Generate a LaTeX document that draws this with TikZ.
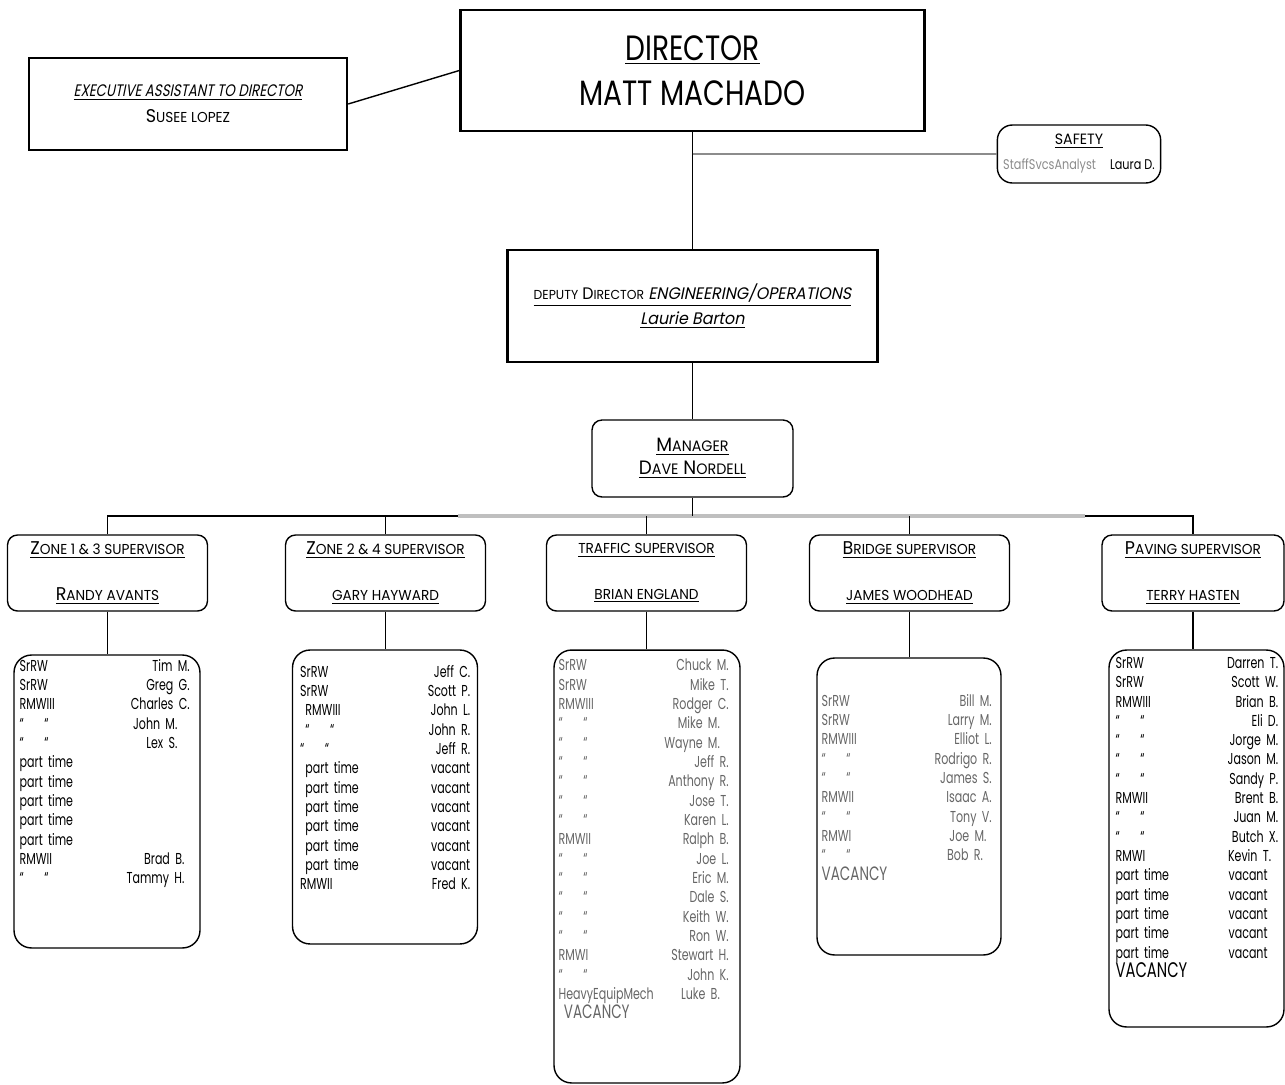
\documentclass[tikz,border=0pt]{standalone}
\usepackage{fontspec}
\usepackage{graphicx}
\setmainfont{Poppins}[FakeStretch=0.8, ItalicFont=Poppins, ItalicFeatures={FakeSlant=0.2}]
\newfontfamily\widefont{Poppins}[FakeStretch=0.95, ItalicFont=Poppins, ItalicFeatures={FakeSlant=0.2}]
\newfontfamily\listfont{Poppins}[FakeStretch=0.7]
\newcommand\lc[1]{\scalebox{0.78}{#1}}
\newcommand\rw[2]{#1\hfill#2}
\newcommand\dit{“\hspace{1.3em}“}
\tikzset{
  box/.style = {draw, line width=1.4pt, align=center},
  rbox/.style = {draw, line width=0.8pt, rounded corners=0.2cm, align=center},
  sup/.style = {rbox, minimum width=4cm, minimum height=1.52cm, font=\widefont\fontsize{10.5}{26}\selectfont},
  staff/.style = {draw, line width=0.8pt, rounded corners=0.35cm},
  list/.style = {anchor=north west, inner sep=0pt, text width=3.4cm, align=left,
    font=\listfont\fontsize{9}{11}\selectfont},
  link/.style = {line width=0.8pt}
}
\begin{document}
\begin{tikzpicture}[x=0.02cm, y=-0.02cm]
  \path[fill=white, use as bounding box] (0,0) rectangle (1285,1085);

  \node[box, minimum width=9.28cm, minimum height=2.42cm, font=\fontsize{20}{25.6}\selectfont] (dir) at (692.5,70.5)
    {\underline{DIRECTOR}\\MATT MACHADO};
  \node[box, minimum width=6.36cm, minimum height=1.84cm, font=\fontsize{9.5}{14.8}\selectfont] (exec) at (188,104)
    {\underline{\textit{EXECUTIVE ASSISTANT TO DIRECTOR}}\\{\widefont\fontsize{10.5}{14.8}\selectfont S\lc{USEE LOPEZ}}};
  \node[rbox, rounded corners=0.3cm, minimum width=3.24cm, minimum height=1.16cm, font=\fontsize{8}{14.2}\selectfont] (saf) at (1079,154)
    {{\widefont\fontsize{8.5}{14.2}\selectfont\underline{SAFETY}}\\{\color{black!45}StaffSvcsAnalyst}\quad Laura D.};
  \node[box, minimum width=7.4cm, minimum height=2.24cm, font=\widefont\fontsize{9.5}{14.2}\selectfont] (dep) at (692.5,306)
    {\underline{\lc{DEPUTY} D\lc{IRECTOR} \textit{ENGINEERING/OPERATIONS}}\\\underline{\textit{Laurie Barton}}};
  \node[rbox, minimum width=4.02cm, minimum height=1.54cm, font=\widefont\fontsize{11}{13}\selectfont] (mgr) at (692.5,458.5)
    {\underline{M\lc{ANAGER}}\\\underline{D\lc{AVE} N\lc{ORDELL}}};

  % supervisors
  \node[sup] (z13) at (107.5,573) {\underline{Z\lc{ONE 1 \& 3 SUPERVISOR}}\\\underline{R\lc{ANDY AVANTS}}};
  \node[sup] (z24) at (385.5,573) {\underline{Z\lc{ONE 2 \& 4 SUPERVISOR}}\\\underline{\lc{GARY HAYWARD}}};
  \node[sup] (trf) at (646.5,573) {\underline{\lc{TRAFFIC SUPERVISOR}}\\\underline{\lc{BRIAN ENGLAND}}};
  \node[sup] (brg) at (909.5,573) {\underline{B\lc{RIDGE SUPERVISOR}}\\\underline{\lc{JAMES WOODHEAD}}};
  \node[sup, minimum width=3.64cm] (pav) at (1193,573) {\underline{P\lc{AVING SUPERVISOR}}\\\underline{\lc{TERRY HASTEN}}};

  % staff
  \node[staff, minimum width=3.72cm, minimum height=5.86cm] (s13) at (107,801.5) {};
  \node[staff, minimum width=3.7cm, minimum height=5.88cm] (s24) at (385,797) {};
  \node[staff, minimum width=3.72cm, minimum height=8.66cm] (strf) at (647,866.5) {};
  \node[staff, minimum width=3.68cm, minimum height=5.94cm] (sbrg) at (909,806.5) {};
  \node[staff, minimum width=3.5cm, minimum height=7.54cm] (spav) at (1196.5,838.5) {};

  \node[list] (l13) at ([xshift=0.12cm, yshift=-0.09cm]s13.north west) {
    \rw{SrRW}{Tim M.}\\
    \rw{SrRW}{Greg G.}\\
    \rw{RMWIII}{Charles C.}\\
    \rw{\dit}{John M.\kern7pt}\\
    \rw{\dit}{Lex S.\kern7pt}\\
    \rw{part time}{}\\
    \rw{part time}{}\\
    \rw{part time}{}\\
    \rw{part time}{}\\
    \rw{part time}{}\\
    \rw{RMWII}{Brad B.\kern3pt}\\
    \rw{\dit}{Tammy H.\kern3pt}};
  \node[list] (l24) at ([xshift=0.16cm, yshift=-0.31cm]s24.north west) {
    \rw{SrRW}{Jeff C.}\\
    \rw{SrRW}{Scott P.}\\
    \rw{\ RMWIII}{John L.}\\
    \rw{\ \dit}{John R.}\\
    \rw{\dit}{Jeff R.}\\
    \rw{\ part time}{vacant}\\
    \rw{\ part time}{vacant}\\
    \rw{\ part time}{vacant}\\
    \rw{\ part time}{vacant}\\
    \rw{\ part time}{vacant}\\
    \rw{\ part time}{vacant}\\
    \rw{RMWII}{Fred K.}};
  \node[list, text=black!60] (ltrf) at ([xshift=0.1cm, yshift=-0.19cm]strf.north west) {
    \rw{SrRW}{Chuck M.}\\
    \rw{SrRW}{Mike T.}\\
    \rw{RMWIII}{Rodger C.}\\
    \rw{\dit}{Mike M.\kern5pt}\\
    \rw{\dit}{Wayne M.\kern5pt}\\
    \rw{\dit}{Jeff R.}\\
    \rw{\dit}{Anthony R.}\\
    \rw{\dit}{Jose T.}\\
    \rw{\dit}{Karen L.}\\
    \rw{RMWII}{Ralph B.}\\
    \rw{\dit}{Joe L.}\\
    \rw{\dit}{Eric M.}\\
    \rw{\dit}{Dale S.}\\
    \rw{\dit}{Keith W.}\\
    \rw{\dit}{Ron W.}\\
    \rw{RMWI}{Stewart H.}\\
    \rw{\dit}{John K.}\\
    \rw{HeavyEquipMech}{Luke B.\kern5pt}\\
    {\fontsize{11}{11}\selectfont\ VACANCY}};
  \node[list, text=black!60] (lbrg) at ([xshift=0.1cm, yshift=-0.73cm]sbrg.north west) {
    \rw{SrRW}{Bill M.}\\
    \rw{SrRW}{Larry M.}\\
    \rw{RMWIII}{Elliot L.}\\
    \rw{\dit}{Rodrigo R.}\\
    \rw{\dit}{James S.}\\
    \rw{RMWII}{Isaac A.}\\
    \rw{\dit}{Tony V.}\\
    \rw{RMWI}{Joe M.\kern3pt}\\
    \rw{\dit}{Bob R.\kern5pt}\\
    {\fontsize{11}{11}\selectfont VACANCY}};
  \node[list, text width=3.25cm] (lpav) at ([xshift=0.14cm, yshift=-0.15cm]spav.north west) {
    \rw{SrRW}{Darren T.}\\
    \rw{SrRW}{Scott W.}\\
    \rw{RMWIII}{Brian B.}\\
    \rw{\dit}{Eli D.}\\
    \rw{\dit}{Jorge M.}\\
    \rw{\dit}{Jason M.}\\
    \rw{\dit}{Sandy P.}\\
    \rw{RMWII}{Brent B.}\\
    \rw{\dit}{Juan M.}\\
    \rw{\dit}{Butch X.}\\
    \rw{RMWI}{Kevin T.\kern4pt}\\
    \rw{part time}{vacant\kern6pt}\\
    \rw{part time}{vacant\kern6pt}\\
    \rw{part time}{vacant\kern6pt}\\
    \rw{part time}{vacant\kern6pt}\\
    \rw{part time}{vacant\kern6pt}\\
    {\fontsize{12}{11}\selectfont VACANCY}};

  % connectors
  \draw[link] (exec.east) -- (dir.west);
  \draw[link] (dir) -- (dep);
  \draw[link, black!45] (dir.south |- saf) -- (saf);
  \draw[link] (dep) -- (mgr);
  \coordinate (bus) at (692.5,516);
  \coordinate (g1) at (458,516);
  \coordinate (g2) at (1085,516);
  \draw[link] (z13.north) |- (bus) -| (pav.north);
  \draw[black!25, line width=2pt] (g1) -- (g2);
  \draw[link] (mgr) -- (bus);
  \foreach \s in {z24,trf,brg}
    \draw[link] (\s.north) -- (\s.north |- bus);
  \foreach \s/\t in {z13/s13,z24/s24,trf/strf,brg/sbrg,pav/spav}
    \draw[link] (\s) -- (\s |- \t.north);
\end{tikzpicture}
\end{document}
